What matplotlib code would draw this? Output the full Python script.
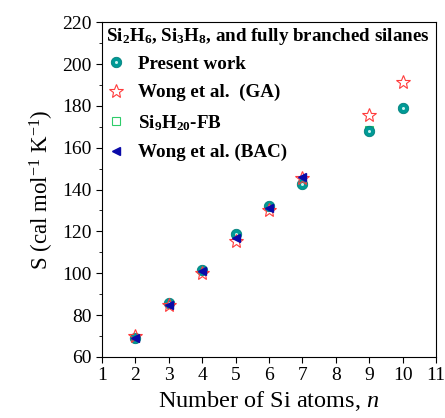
import matplotlib
matplotlib.use("Agg")
import matplotlib.pyplot as plt
from matplotlib.ticker import MultipleLocator
from matplotlib.legend_handler import HandlerTuple

plt.rcParams['font.family'] = ['Liberation Serif', 'DejaVu Serif']
plt.rcParams['mathtext.fontset'] = 'custom'
plt.rcParams['mathtext.rm'] = 'Liberation Serif'
plt.rcParams['mathtext.it'] = 'Liberation Serif:italic'
plt.rcParams['mathtext.bf'] = 'Liberation Serif:bold'

# Data
n_present = [2, 3, 4, 5, 6, 7, 9, 10]
s_present = [69.1, 85.6, 101.5, 118.6, 132.1, 142.5, 168.0, 179.0]
n_ga = [2, 3, 4, 5, 6, 7, 9, 10]
s_ga = [70.0, 85.0, 100.0, 115.5, 130.3, 145.5, 175.5, 191.2]
n_fb = [9]
s_fb = [168.4]
n_bac = [2, 3, 4, 5, 6, 7]
s_bac = [69.0, 84.6, 101.0, 117.0, 131.2, 146.0]

fig = plt.figure(figsize=(4.45, 4.18), dpi=100)
ax = fig.add_axes([0.229, 0.146, 0.751, 0.801])

h1, = ax.plot(n_present, s_present, 'o', ms=7.5, color='#009a96', mec='#00807c', mew=0.6,
              zorder=3)
h1b, = ax.plot(n_present, s_present, 'o', ms=2.2, color='#c8f2f0', mec='none', zorder=3.1)
h2, = ax.plot(n_ga, s_ga, '*', ms=10, mfc='none', mec='#ff3b3b', mew=0.8, zorder=4)
h3, = ax.plot(n_fb, s_fb, 's', ms=6, mfc='none', mec='#2ecc6a', mew=0.8, zorder=2)
h4, = ax.plot(n_bac, s_bac, '<', ms=6, color='#0a0aa8', mec='#0a0aa8', zorder=5)

ax.set_xlim(1, 11)
ax.set_ylim(60, 220)
ax.xaxis.set_major_locator(MultipleLocator(1))
ax.yaxis.set_major_locator(MultipleLocator(20))
ax.yaxis.set_minor_locator(MultipleLocator(10))
ax.tick_params(axis='both', which='both', direction='out', labelsize=14,
               top=False, right=False)
ax.tick_params(which='major', length=4)
ax.tick_params(which='minor', length=2.5)
for sp in ax.spines.values():
    sp.set_linewidth(0.8)

ax.set_xlabel(r'Number of Si atoms, $n$', fontsize=17.5, labelpad=3)
ax.set_ylabel(r'S (cal mol$^{-1}$ K$^{-1}$)', fontsize=16.5, labelpad=4)

leg = ax.legend([(h1, h1b), h2, h3, h4],
                ['Present work', 'Wong et al.  (GA)', r'$\mathbf{Si_9H_{20}}$-FB',
                 'Wong et al. (BAC)'],
                handler_map={tuple: HandlerTuple(ndivide=1, pad=0)},
                loc='upper left', frameon=False,
                title=r'$\mathbf{Si_2H_6}$, $\mathbf{Si_3H_8}$, and fully branched silanes',
                prop={'weight': 'bold', 'size': 13.7},
                title_fontproperties={'weight': 'bold', 'size': 13.7},
                handletextpad=0.6, labelspacing=0.6, borderaxespad=0.05,
                borderpad=0.15, handlelength=1.1, alignment='left')
leg._legend_box.sep = 6

fig.savefig('out.png', dpi=100)
